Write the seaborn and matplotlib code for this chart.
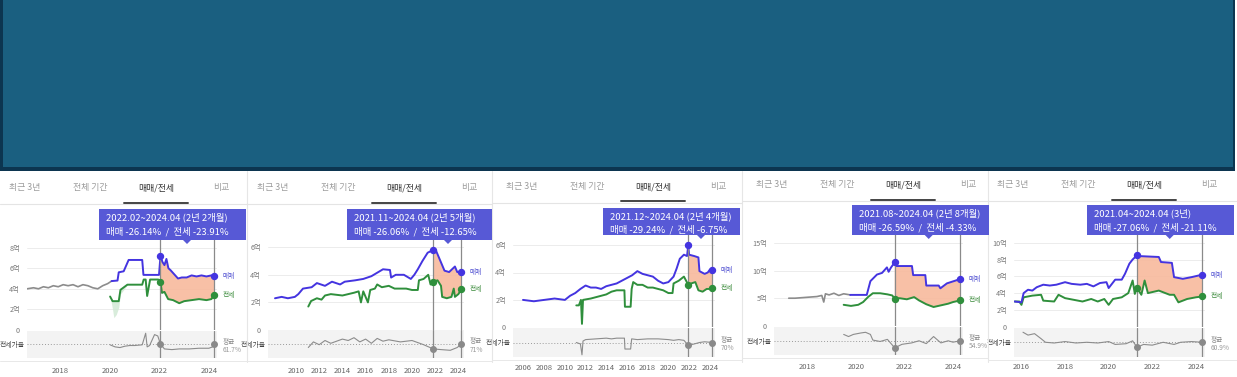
"""
Apartment sale / jeonse price panels (매매/전세 tab), five listings side by side,
under a dark banner.
"""

import numpy as np
import matplotlib
matplotlib.use("Agg")
import matplotlib.pyplot as plt
import seaborn as sns
from matplotlib.patches import Rectangle, Polygon
from matplotlib.lines import Line2D


# ──────────────────────────────────────────────
# Data (억 KRW / %)
# ──────────────────────────────────────────────

TAB_LABELS = ["최근 3년", "전체 기간", "매매/전세", "비교"]

TIP_PERIODS = [
    "2022.02~2024.04 (2년 2개월)",
    "2021.11~2024.04 (2년 5개월)",
    "2021.12~2024.04 (2년 4개월)",
    "2021.08~2024.04 (2년 8개월)",
    "2021.04~2024.04 (3년)",
]
TIP_CHANGES = [
    "매매 -26.14%  /  전세 -23.91%",
    "매매 -26.06%  /  전세 -12.65%",
    "매매 -29.24%  /  전세 -6.75%",
    "매매 -26.59%  /  전세 -4.33%",
    "매매 -27.06%  /  전세 -21.11%",
]

# start / end of the highlighted range (decimal years)
RANGES = [(2022.04, 2024.22), (2021.83, 2024.25), (2021.92, 2024.25),
          (2021.6, 2024.3), (2021.3, 2024.3)]

Y_TICKS = [[0, 2, 4, 6, 8], [0, 2, 4, 6], [0, 2, 4, 6], [0, 5, 10, 15],
           [0, 2, 4, 6, 8, 10]]
X_YEARS = [[2018, 2020, 2022, 2024],
           list(range(2010, 2025, 2)),
           list(range(2006, 2025, 2)),
           [2018, 2020, 2022, 2024],
           [2016, 2018, 2020, 2022, 2024]]

RATIO_AVG = [61.7, 71, 70, 54.9, 60.9]
RATIO_AVG_LABEL = ["61.7%", "71%", "70%", "54.9%", "60.9%"]

# panel 1
P1_GRAY_X = [2016.64, 2016.9, 2017.1, 2017.3, 2017.5, 2017.7, 2017.9, 2018.1, 2018.3,
             2018.5, 2018.7, 2018.9, 2019.1, 2019.3, 2019.5, 2019.7, 2019.9, 2020.06]
P1_GRAY_Y = [4.0, 4.1, 4.0, 4.2, 4.1, 4.3, 4.2, 4.4, 4.3, 4.4, 4.2, 4.4, 4.3, 4.1,
             4.0, 4.3, 4.5, 4.75]
P1_SALE_X = [2020.06, 2020.3, 2020.35, 2020.55, 2020.75, 2021.3, 2021.35, 2021.98,
             2022.04, 2022.12, 2022.2, 2022.28, 2022.36, 2022.45, 2022.6, 2022.75,
             2022.9, 2023.1, 2023.3, 2023.5, 2023.7, 2023.9, 2024.1, 2024.22]
P1_SALE_Y = [4.75, 4.8, 5.6, 5.7, 6.8, 6.8, 5.35, 5.35, 7.2, 6.6, 6.3, 6.9, 6.0, 5.8,
             5.4, 5.0, 5.1, 5.1, 5.3, 5.2, 5.3, 5.2, 5.3, 5.2]
P1_JEON_X = [2020.0, 2020.1, 2020.35, 2020.42, 2020.7, 2021.3, 2021.36, 2021.44,
             2021.5, 2021.62, 2021.95, 2022.04, 2022.1, 2022.2, 2022.35, 2022.55,
             2022.8, 2023.0, 2023.3, 2023.6, 2023.9, 2024.1, 2024.22]
P1_JEON_Y = [3.25, 2.8, 2.8, 3.9, 4.4, 4.4, 4.9, 4.9, 3.3, 4.9, 4.9, 4.7, 3.6, 3.7,
             3.0, 2.9, 2.6, 2.8, 2.9, 3.0, 2.9, 3.0, 3.4]
# faint min/max band under the early jeonse line
P1_SHADE_X = [2020.0, 2020.1, 2020.15, 2020.25, 2020.35, 2020.42, 2020.55, 2020.7]
P1_SHADE_LO = [3.25, 2.0, 1.2, 1.5, 2.2, 3.5, 3.9, 4.4]
P1_SHADE_HI = [3.25, 2.8, 2.8, 2.8, 2.8, 3.9, 4.1, 4.4]
P1_RATIO_X = [2020.0, 2020.2, 2020.4, 2020.6, 2020.8, 2021.0, 2021.3, 2021.44, 2021.5,
              2021.6, 2021.8, 2021.93, 2022.04, 2022.2, 2022.5, 2022.8, 2023.2, 2023.6,
              2024.0, 2024.15, 2024.22]
P1_RATIO_Y = [61, 58, 57, 59, 60, 60, 61, 78, 58, 60, 76, 74, 62, 55, 54, 55, 55, 56,
              56, 58, 62]

# panel 2
P2_SALE_X = [2008.19, 2008.76, 2009.3, 2009.9, 2010.2, 2010.6, 2011.35, 2011.8, 2012.5,
             2013.1, 2013.8, 2014.2, 2015.1, 2015.8, 2016.5, 2017.1, 2017.5, 2018.1,
             2018.2, 2018.6, 2019.3, 2019.9, 2020.2, 2020.5, 2020.9, 2021.35, 2021.83,
             2022.07, 2022.5, 2022.8, 2023.2, 2023.7, 2023.9, 2024.25]
P2_SALE_Y = [2.3, 2.4, 2.3, 2.4, 2.6, 3.0, 3.1, 3.4, 3.2, 3.5, 3.3, 3.5, 3.6, 3.7, 3.9,
             4.2, 4.4, 4.35, 3.8, 4.0, 4.0, 3.7, 4.0, 4.4, 5.0, 5.6, 5.8, 5.75, 4.9,
             4.3, 4.2, 4.6, 4.2, 4.2]
P2_JEON_X = [2011.06, 2011.3, 2011.8, 2012.2, 2012.5, 2013.0, 2014.0, 2014.5, 2015.0,
             2015.4, 2015.6, 2015.8, 2016.2, 2016.4, 2016.8, 2017.0, 2017.4, 2018.0,
             2018.5, 2019.0, 2019.5, 2020.0, 2020.5, 2020.6, 2021.0, 2021.4, 2021.6,
             2021.83, 2022.2, 2022.5, 2022.6, 2023.0, 2023.4, 2023.6, 2023.7, 2024.0,
             2024.25]
P2_JEON_Y = [1.7, 2.1, 2.3, 2.2, 2.5, 2.6, 2.5, 2.6, 2.7, 2.8, 2.0, 2.8, 2.0, 2.9, 3.0,
             3.3, 3.1, 3.2, 3.0, 3.0, 3.0, 2.9, 2.9, 3.6, 3.7, 4.0, 3.3, 3.5, 3.6, 3.2,
             2.4, 2.3, 2.4, 3.0, 2.4, 2.6, 2.95]
P2_RATIO_X = [2011.06, 2011.5, 2012.0, 2012.5, 2013.0, 2013.5, 2014.0, 2014.5, 2015.0,
              2015.5, 2016.0, 2016.5, 2017.0, 2017.5, 2018.0, 2019.0, 2020.0, 2021.0,
              2021.83, 2022.5, 2023.3, 2023.9, 2024.25]
P2_RATIO_Y = [66, 74, 70, 76, 72, 75, 78, 76, 80, 74, 78, 72, 79, 75, 77, 74, 76, 70,
              64, 63, 62, 66, 71]

# panel 3
P3_SALE_X = [2005.95, 2007.0, 2008.0, 2009.0, 2010.0, 2010.5, 2011.0, 2011.5, 2012.0,
             2012.5, 2013.0, 2013.5, 2014.0, 2015.0, 2016.0, 2016.5, 2017.0, 2017.5,
             2018.0, 2018.5, 2019.0, 2019.5, 2020.0, 2020.5, 2020.8, 2021.1, 2021.5,
             2021.8, 2021.92, 2022.0, 2022.5, 2022.9, 2023.0, 2023.5, 2023.8, 2024.0,
             2024.25]
P3_SALE_Y = [2.0, 1.9, 2.0, 2.1, 2.0, 2.3, 2.5, 2.8, 3.05, 2.9, 2.9, 2.8, 3.0, 3.2, 3.6,
             3.8, 4.1, 3.9, 3.8, 3.7, 3.4, 3.2, 3.3, 3.7, 4.3, 5.0, 5.3, 5.2, 6.0, 5.3,
             5.2, 5.1, 4.1, 3.9, 4.0, 4.2, 4.2]
P3_JEON_X = [2011.1, 2011.35, 2011.55, 2011.65, 2011.75, 2012.5, 2013.5, 2014.0, 2014.5,
             2015.0, 2015.75, 2015.8, 2016.35, 2016.45, 2016.6, 2017.0, 2017.5, 2018.0,
             2018.5, 2019.0, 2019.5, 2020.0, 2020.4, 2020.5, 2021.0, 2021.5, 2021.92,
             2022.2, 2022.6, 2022.9, 2023.3, 2023.7, 2024.0, 2024.25]
P3_JEON_Y = [1.6, 1.6, 2.0, 0.25, 2.0, 2.1, 2.3, 2.4, 2.6, 2.7, 2.7, 1.5, 1.5, 2.8, 3.3,
             3.1, 3.1, 2.9, 2.9, 2.8, 2.7, 2.5, 2.5, 3.2, 3.4, 3.7, 3.1, 3.2, 3.3, 2.7,
             2.6, 2.8, 2.8, 2.9]
P3_RATIO_X = [2011.1, 2011.5, 2011.65, 2011.75, 2012, 2013, 2014, 2014.5, 2015, 2015.75,
              2015.8, 2016.35, 2016.45, 2017, 2018, 2019, 2020, 2020.5, 2021, 2021.5,
              2021.92, 2022.5, 2023, 2023.5, 2024.25]
P3_RATIO_Y = [70, 68, 53, 72, 74, 75, 76, 75, 76, 76, 61, 61, 75, 74, 75, 75, 74, 73,
              74, 73, 66, 68, 70, 71, 70]

# panel 4
P4_GRAY_X = [2017.24, 2017.5, 2017.8, 2018.1, 2018.4, 2018.6, 2018.68, 2018.75, 2018.9,
             2019.1, 2019.3, 2019.5, 2019.77]
P4_GRAY_Y = [5.0, 5.0, 5.1, 5.2, 5.3, 5.5, 4.3, 5.8, 5.6, 5.9, 5.5, 5.8, 5.6]
P4_SALE_X = [2019.77, 2020.45, 2020.6, 2020.87, 2021.08, 2021.28, 2021.35, 2021.45,
             2021.6, 2021.65, 2022.31, 2022.36, 2022.86, 2022.9, 2023.41, 2023.48,
             2023.75, 2024.1, 2024.3]
P4_SALE_Y = [5.6, 5.6, 8.1, 9.3, 9.6, 10.6, 9.8, 10.6, 11.5, 10.85, 10.85, 9.2, 9.2,
             7.3, 7.3, 6.8, 7.7, 8.2, 8.5]
P4_JEON_X = [2019.5, 2019.8, 2020.1, 2020.3, 2020.5, 2020.7, 2021.0, 2021.3, 2021.5,
             2021.6, 2021.8, 2022.1, 2022.4, 2022.6, 2022.9, 2023.2, 2023.5, 2023.8,
             2024.0, 2024.3]
P4_JEON_Y = [3.8, 3.6, 3.8, 4.3, 5.2, 5.9, 5.9, 5.7, 5.5, 4.9, 5.0, 4.8, 5.2, 4.6, 3.9,
             3.4, 3.7, 4.0, 4.3, 4.6]
P4_RATIO_X = [2019.5, 2019.7, 2019.9, 2020.2, 2020.4, 2020.6, 2020.7, 2021.0, 2021.3,
              2021.6, 2021.9, 2022.3, 2022.6, 2022.9, 2023.2, 2023.5, 2023.8, 2024.0,
              2024.3]
P4_RATIO_Y = [64, 61, 64, 66, 67, 64, 56, 54, 57, 45, 50, 52, 55, 51, 61, 52, 55, 53, 55]

# panel 5
P5_SALE_X = [2015.69, 2016.0, 2016.1, 2016.3, 2016.5, 2016.7, 2017.0, 2017.3, 2017.6,
             2018.0, 2018.3, 2018.7, 2019.0, 2019.3, 2019.6, 2019.9, 2020.0, 2020.3,
             2020.6, 2020.75, 2020.95, 2021.1, 2021.3, 2021.45, 2022.3, 2022.4, 2022.9,
             2023.0, 2023.4, 2023.8, 2024.3]
P5_SALE_Y = [3.0, 2.9, 4.0, 4.4, 4.3, 4.7, 5.0, 4.9, 5.0, 5.3, 5.1, 5.0, 5.1, 4.8, 5.2,
             5.3, 4.6, 5.6, 5.6, 6.3, 7.5, 8.0, 8.5, 8.4, 8.3, 7.7, 7.6, 5.9, 5.7, 5.9,
             6.2]
P5_JEON_X = [2015.69, 2015.9, 2016.0, 2016.1, 2016.5, 2016.9, 2017.0, 2017.5, 2017.7,
             2018.0, 2018.4, 2018.8, 2019.2, 2019.5, 2019.8, 2020.0, 2020.2, 2020.6,
             2020.9, 2021.1, 2021.2, 2021.3, 2021.5, 2021.65, 2021.8, 2022.3, 2022.8,
             2023.0, 2023.2, 2023.6, 2024.0, 2024.3]
P5_JEON_Y = [3.0, 3.0, 2.6, 3.5, 3.7, 3.8, 3.1, 3.0, 3.8, 3.4, 3.2, 3.0, 3.3, 3.0, 3.3,
             2.6, 3.3, 3.5, 4.0, 5.5, 3.9, 4.6, 3.8, 5.5, 4.0, 4.3, 3.8, 3.8, 2.9, 3.3,
             3.5, 3.6]
P5_RATIO_X = [2016.07, 2016.3, 2016.6, 2016.9, 2017.1, 2017.5, 2018.0, 2018.5, 2019.0,
              2019.5, 2020.0, 2020.3, 2020.8, 2021.1, 2021.3, 2021.6, 2022.0, 2022.5,
              2023.0, 2023.3, 2023.8, 2024.3]
P5_RATIO_Y = [75, 71, 73, 66, 61, 60, 62, 60, 61, 60, 62, 58, 59, 63, 54, 58, 57, 61,
              58, 61, 62, 61]

PANEL_SERIES = [
    (P1_GRAY_X, P1_GRAY_Y, P1_SALE_X, P1_SALE_Y, P1_JEON_X, P1_JEON_Y, P1_RATIO_X, P1_RATIO_Y),
    (None, None, P2_SALE_X, P2_SALE_Y, P2_JEON_X, P2_JEON_Y, P2_RATIO_X, P2_RATIO_Y),
    (None, None, P3_SALE_X, P3_SALE_Y, P3_JEON_X, P3_JEON_Y, P3_RATIO_X, P3_RATIO_Y),
    (P4_GRAY_X, P4_GRAY_Y, P4_SALE_X, P4_SALE_Y, P4_JEON_X, P4_JEON_Y, P4_RATIO_X, P4_RATIO_Y),
    (None, None, P5_SALE_X, P5_SALE_Y, P5_JEON_X, P5_JEON_Y, P5_RATIO_X, P5_RATIO_Y),
]
PANEL_SHADES = [(P1_SHADE_X, P1_SHADE_LO, P1_SHADE_HI), None, None, None, None]


# ──────────────────────────────────────────────
# Layout (pixels of the 1237x377 canvas)
# ──────────────────────────────────────────────

W, H = 1237, 377
LAYOUT = [
    dict(left=27, right=217, top=236, zero=330, ppe=10.3, band=(330.7, 358),
         xref=(60.7, 2018, 24.7), tab_x=25, tab_y=188, line_y=202.5,
         tip=(99, 209, 246, 240), ptr=187, xpad=6.8),
    dict(left=268, right=463.5, top=236, zero=330, ppe=13.8, band=(330, 358),
         xref=(296, 2010, 11.6), tab_x=273, tab_y=188, line_y=202.5,
         tip=(347, 209, 492, 240), ptr=448, xpad=6.8),
    dict(left=513, right=715, top=233, zero=327.3, ppe=13.7, band=(328, 357),
         xref=(523.5, 2006, 10.35), tab_x=522, tab_y=186.7, line_y=201.5,
         tip=(603, 207.7, 740, 235), ptr=701, xpad=5.0),
    dict(left=774, right=963, top=233, zero=325.7, ppe=5.5, band=(326.7, 355),
         xref=(894.7, 2021.6, 24.3), tab_x=772, tab_y=185, line_y=200,
         tip=(852, 205, 989, 235), ptr=928.7, xpad=5.8),
    dict(left=1014, right=1205, top=233, zero=326.7, ppe=8.4, band=(328, 356.7),
         xref=(1137, 2021.3, 21.8), tab_x=1013, tab_y=185, line_y=200,
         tip=(1087, 205, 1234, 235), ptr=1169.7, xpad=4.5),
]
PANEL_EDGES = [0, 247, 492, 742, 988, 1237]
TAB_STEP = 65.5
RATIO_SPAN = 20   # % above / below the average shown in the ratio band

BLUE = "#4434e0"
GREEN = "#2f8f3c"
GRAY = "#8c8c8c"
FILL = "#f8b99c"
TIP_BG = "#5759d6"
BANNER = "#1a5f80"
BANNER_EDGE = "#0c3550"

sns.set_theme(style="white")
plt.rcParams["font.family"] = ["Noto Sans CJK KR", "DejaVu Sans"]


def fx(x):
    return x / W


def fy(y):
    return 1 - y / H


def add_axes_px(fig, l, t, r, b):
    return fig.add_axes([fx(l), fy(b), (r - l) / W, (b - t) / H])


def value_at(xs, ys, x):
    return dict(zip(xs, ys))[x]


def draw_panel(fig, i):
    lay = LAYOUT[i]
    gx, gy, sx, sy, jx, jy, rx, ry = PANEL_SERIES[i]
    start, end = RANGES[i]
    avg = RATIO_AVG[i]

    ref_px, ref_yr, ppy = lay["xref"]
    xlim = (ref_yr + (lay["left"] - ref_px) / ppy, ref_yr + (lay["right"] - ref_px) / ppy)

    # ── price axes ──
    ax = add_axes_px(fig, lay["left"], lay["top"], lay["right"], lay["zero"])
    ax.set_facecolor("none")
    ax.set_xlim(xlim)
    ax.set_ylim(0, (lay["zero"] - lay["top"]) / lay["ppe"])
    ax.set_yticks(Y_TICKS[i])
    ax.set_yticklabels([("0" if v == 0 else f"{v}억") for v in Y_TICKS[i]])
    ax.set_xticks([])
    ax.tick_params(axis="y", length=0, pad=5, labelsize=5.2, labelcolor="#777777")
    ax.grid(axis="y", color="#e9e9e9", lw=0.6)
    ax.set_axisbelow(True)
    sns.despine(ax=ax, left=True, bottom=True)

    sel_s = [(x, y) for x, y in zip(sx, sy) if start <= x <= end]
    sel_j = [(x, y) for x, y in zip(jx, jy) if start <= x <= end]
    poly = sel_s + sel_j[::-1]
    ax.fill([p[0] for p in poly], [p[1] for p in poly], color=FILL, alpha=0.9, lw=0, zorder=1)

    if PANEL_SHADES[i] is not None:
        shx, shlo, shhi = PANEL_SHADES[i]
        ax.fill_between(shx, shlo, shhi, color="#cfe8d2", alpha=0.8, lw=0, zorder=1)

    if gx is not None:
        sns.lineplot(x=gx, y=gy, ax=ax, color=GRAY, lw=1.2, sort=False, estimator=None, zorder=2)
    sns.lineplot(x=jx, y=jy, ax=ax, color=GREEN, lw=1.4, sort=False, estimator=None, zorder=3)
    sns.lineplot(x=sx, y=sy, ax=ax, color=BLUE, lw=1.4, sort=False, estimator=None, zorder=3)

    for xv in (start, end):
        ax.axvline(xv, color="#8a8a8a", lw=0.9, zorder=4)
        ax.plot(xv, value_at(sx, sy, xv), "o", color=BLUE, ms=4.3, zorder=5, clip_on=False)
        ax.plot(xv, value_at(jx, jy, xv), "o", color=GREEN, ms=4.3, zorder=5, clip_on=False)

    ax.annotate("매매", xy=(end, value_at(sx, sy, end)), xytext=(8, 0),
                textcoords="offset pixels", va="center", fontsize=4.8, color="#4b4bd0")
    ax.annotate("전세", xy=(end, value_at(jx, jy, end)), xytext=(8, 0),
                textcoords="offset pixels", va="center", fontsize=4.8, color="#3a8a3a")
    ax.set_xlabel("")
    ax.set_ylabel("")

    # ── jeonse ratio band ──
    b_top, b_bot = lay["band"]
    axr = add_axes_px(fig, lay["left"], b_top, lay["right"], b_bot)
    axr.set_facecolor("#f3f3f3")
    axr.set_xlim(xlim)
    axr.set_ylim(avg - RATIO_SPAN, avg + RATIO_SPAN)
    axr.axhline(avg, color="#9a9a9a", ls=(0, (1, 2)), lw=0.7, zorder=1)
    sns.lineplot(x=rx, y=ry, ax=axr, color=GRAY, lw=0.8, sort=False, estimator=None, zorder=2)
    for xv in (start, end):
        axr.axvline(xv, color="#8a8a8a", lw=0.9, zorder=3)
        axr.plot(xv, value_at(rx, ry, xv), "o", color="#8a8a8a", ms=4.0, zorder=4, clip_on=False)
    axr.annotate("평균", xy=(end, avg), xytext=(8, 2.5), textcoords="offset pixels",
                 va="center", fontsize=4.8, color="#888888", annotation_clip=False)
    axr.annotate(RATIO_AVG_LABEL[i], xy=(end, avg), xytext=(8, -5.5),
                 textcoords="offset pixels", va="center", fontsize=4.8, color="#999999",
                 annotation_clip=False)
    axr.set_yticks([avg])
    axr.set_yticklabels(["전세가율"])
    axr.set_xticks(X_YEARS[i])
    axr.set_xticklabels([str(y) for y in X_YEARS[i]])
    axr.tick_params(axis="y", length=0, pad=2, labelsize=4.9, labelcolor="#444444")
    axr.tick_params(axis="x", length=0, pad=lay["xpad"], labelsize=5.5, labelcolor="#666666")
    axr.set_xlabel("")
    axr.set_ylabel("")
    sns.despine(ax=axr, left=True, bottom=True)

    # ── tabs ──
    for j, lab in enumerate(TAB_LABELS):
        active = j == 2
        fig.text(fx(lay["tab_x"] + j * TAB_STEP), fy(lay["tab_y"]), lab,
                 ha="center", va="center", fontsize=6.4,
                 color="#333333" if active else "#9c9c9c",
                 weight="medium" if active else "normal")
    p0, p1 = PANEL_EDGES[i], PANEL_EDGES[i + 1]
    fig.add_artist(Line2D([fx(p0), fx(p1)], [fy(lay["line_y"] + 1.3)] * 2,
                          color="#e4e4e4", lw=0.8))
    ux = lay["tab_x"] + 2 * TAB_STEP
    fig.add_artist(Line2D([fx(ux - 32), fx(ux + 32)], [fy(lay["line_y"])] * 2,
                          color="#444444", lw=1.4))
    fig.add_artist(Line2D([fx(p0), fx(p1)], [fy(b_bot + 3)] * 2, color="#e8e8e8", lw=0.7))

    # ── tooltip ──
    tl, tt, tr, tb = lay["tip"]
    fig.add_artist(Rectangle((fx(tl), fy(tb)), (tr - tl) / W, (tb - tt) / H,
                             transform=fig.transFigure, facecolor=TIP_BG, lw=0, zorder=5))
    pt = lay["ptr"]
    fig.add_artist(Polygon([(fx(pt - 4), fy(tb)), (fx(pt + 4), fy(tb)), (fx(pt), fy(tb + 4))],
                           closed=True, transform=fig.transFigure, facecolor=TIP_BG, lw=0,
                           zorder=5))
    fig.text(fx(tl + 7), fy(tt + 8.5), TIP_PERIODS[i], ha="left", va="center",
             fontsize=6.8, color="white", zorder=6)
    fig.text(fx(tl + 7), fy(tt + 22.5), TIP_CHANGES[i], ha="left", va="center",
             fontsize=6.8, color="white", zorder=6)


fig = plt.figure(figsize=(W / 100, H / 100), dpi=100)
fig.patch.set_facecolor("white")

# banner
fig.add_artist(Rectangle((0, fy(170.5)), fx(1235), 170.5 / H, transform=fig.transFigure,
                         facecolor=BANNER_EDGE, lw=0))
fig.add_artist(Rectangle((fx(2.5), fy(167)), fx(1232.5 - 2.5), 167 / H,
                         transform=fig.transFigure, facecolor=BANNER, lw=0))

for xe in PANEL_EDGES[1:-1]:
    fig.add_artist(Line2D([fx(xe)] * 2, [fy(171), fy(362)], color="#e6e6e6", lw=0.8))

for i in range(5):
    draw_panel(fig, i)

fig.savefig("out.png", dpi=100)
